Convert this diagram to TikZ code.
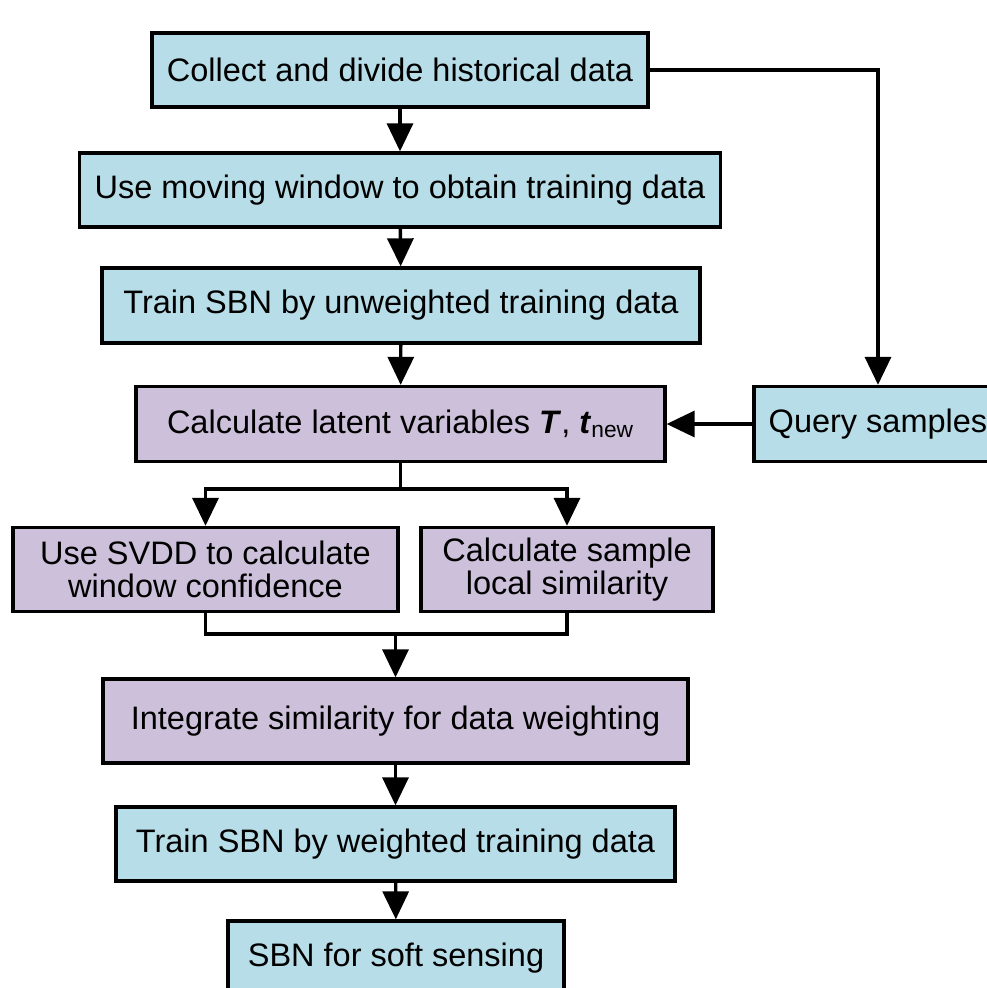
\documentclass[tikz,border=0pt]{standalone}
\usepackage{fontspec}
\setmainfont{Liberation Sans}
\usetikzlibrary{arrows.meta}
\definecolor{stepblue}{RGB}{183,222,232}
\definecolor{steplilac}{RGB}{204,192,218}
\tikzset{
  box/.style={draw, line width=1.9pt, inner sep=2pt, align=center,
    font=\fontsize{18.5}{19}\selectfont},
  bluebox/.style={box, fill=stepblue},
  lilacbox/.style={box, fill=steplilac},
  link/.style={line width=1.9pt},
  arr/.style={link, -{Triangle[length=0.56cm,width=0.52cm]}}
}
\begin{document}
\begin{tikzpicture}[x=0.02cm,y=-0.02cm]
    \path[use as bounding box, clip] (0,0) rectangle (987,988);

    \node[bluebox, minimum width=9.92cm, minimum height=1.48cm] (collect) at (400,70) {Collect and divide historical data};
    \node[bluebox, minimum width=12.82cm, minimum height=1.48cm] (window) at (400,190) {Use moving window to obtain training data};
    \node[bluebox, minimum width=11.96cm, minimum height=1.5cm] (trainu) at (401,305.5) {Train SBN by unweighted training data};
    \node[lilacbox, minimum width=10.58cm, minimum height=1.5cm] (latent) at (400.5,424) {Calculate latent variables \textbf{\textit{T}}, \textbf{\textit{t}}\textsubscript{new}};
    \node[bluebox, minimum width=4.96cm, minimum height=1.5cm] (query) at (878,424) {Query samples};
    \node[lilacbox, minimum width=7.7cm, minimum height=1.68cm] (svdd) at (205.5,569.5) {Use SVDD to calculate\\window confidence};
    \node[lilacbox, minimum width=5.84cm, minimum height=1.68cm] (simil) at (567,569.5) {Calculate sample\\local similarity};
    \node[lilacbox, minimum width=11.7cm, minimum height=1.68cm] (integ) at (395.5,721) {Integrate similarity for data weighting};
    \node[bluebox, minimum width=11.18cm, minimum height=1.48cm] (trainw) at (395.5,844) {Train SBN by weighted training data};
    \node[bluebox, minimum width=6.72cm, minimum height=1.48cm] (soft) at (396,958) {SBN for soft sensing};

    \coordinate (split) at (400.5,489);
    \coordinate (merge) at (395.5,634);

    \draw[arr] (collect) -- (window);
    \draw[arr] (window) -- (trainu);
    \draw[arr] (trainu) -- (latent);
    \draw[arr] (collect.east) -| (query.north);
    \draw[arr] (query) -- (latent);
    \draw[link] (latent) -- (split);
    \draw[arr] (split) -| (svdd.north);
    \draw[arr] (split) -| (simil.north);
    \draw[link] (svdd.south) |- (merge) -| (simil.south);
    \draw[arr] (merge) -- (integ);
    \draw[arr] (integ) -- (trainw);
    \draw[arr] (trainw) -- (soft);
\end{tikzpicture}
\end{document}
